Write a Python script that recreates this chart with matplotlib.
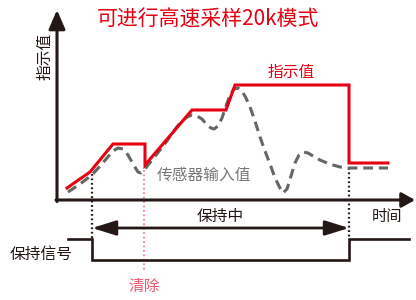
import matplotlib
matplotlib.use('Agg')
import matplotlib.pyplot as plt

plt.rcParams['font.family'] = ['Noto Sans CJK SC', 'DejaVu Sans']

# diagram coordinates, in pixels of the 416x300 picture (y grows downward)
display_x = [67, 90, 113, 145, 145, 192, 226, 235, 349, 349, 388]
display_y = [188, 172, 144, 144, 165, 110, 110, 85, 85, 163, 163]

sensor_x = [68, 80, 92, 100, 107, 113, 118, 123, 128, 133, 138, 141, 145, 152, 160,
            167, 173, 180, 187, 192, 197, 202, 207, 211, 214, 218, 222, 226, 230,
            234, 238, 242, 246, 250, 255, 260, 265, 270, 275, 280, 283, 287, 291,
            295, 299, 303, 308, 313, 320, 327, 333, 340, 348, 388]
sensor_y = [192, 184, 175, 166, 158, 151, 148, 149, 155, 164, 172, 173, 169, 160, 150,
            141, 132, 123, 117, 115, 116, 119, 125, 128, 129, 126, 118, 106, 95,
            89, 88, 91, 98, 107, 121, 137, 151, 164, 178, 188, 193, 189, 176,
            163, 155, 152, 153, 156, 160, 163, 165, 167, 168, 168]

signal_x = [68, 92, 92, 349, 349, 409]
signal_y = [239, 239, 260, 260, 239, 239]

hold_start, hold_end, clear_x = 92, 349, 144
axis_x0, axis_y0 = 57, 200

RED = '#e60012'
GRAY = '#666666'
BLACK = '#231815'

fig = plt.figure(figsize=(4.16, 3.0), dpi=100)
ax = fig.add_axes([0, 0, 1, 1])
ax.set_xlim(0, 416)
ax.set_ylim(300, 0)
ax.axis('off')

# axes with arrows
ax.annotate('', xy=(axis_x0, 10), xytext=(axis_x0, axis_y0 + 1.5),
            arrowprops=dict(arrowstyle='-|>,head_length=1.15,head_width=0.5',
                            lw=2.2, color=BLACK, shrinkA=0, shrinkB=0, mutation_scale=10))
ax.annotate('', xy=(415, axis_y0), xytext=(axis_x0 - 1, axis_y0),
            arrowprops=dict(arrowstyle='-|>,head_length=0.8,head_width=0.45',
                            lw=2.2, color=BLACK, shrinkA=0, shrinkB=0, mutation_scale=10))

# dotted guide lines
ax.plot([hold_start, hold_start], [174, 238], color=BLACK, lw=1.6, ls=(0, (0.8, 1.2)))
ax.plot([hold_end, hold_end], [168, 238], color=BLACK, lw=1.6, ls=(0, (0.8, 1.2)))
ax.plot([clear_x, clear_x], [170, 272], color='#f3939f', lw=1.6, ls=(0, (0.8, 1.2)))

# curves
ax.plot(sensor_x, sensor_y, color=GRAY, lw=2.2, ls=(0, (3.2, 1.9)), dash_capstyle='butt')
ax.plot(display_x, display_y, color=RED, lw=2.2, solid_joinstyle='miter')

# hold period arrow
ax.annotate('', xy=(hold_end, 228), xytext=(hold_start, 228),
            arrowprops=dict(arrowstyle='<|-|>,head_length=1.45,head_width=0.45',
                            lw=2.0, color=BLACK, shrinkA=0, shrinkB=0, mutation_scale=10))

# hold signal
ax.plot(signal_x, signal_y, color=BLACK, lw=1.9, solid_joinstyle='miter')

# texts
ax.text(208, 20, '可进行高速采样20k模式', color=RED, fontsize=15, ha='center', va='center')
ax.text(45, 56, '指示值', color=BLACK, fontsize=11.3, ha='center', va='center', rotation=90)
ax.text(291, 72, '指示值', color=RED, fontsize=11.3, ha='center', va='center')
ax.text(204, 175, '传感器输入值', color='#777777', fontsize=11.3, ha='center', va='center')
ax.text(220, 216, '保持中', color=BLACK, fontsize=11.3, ha='center', va='center')
ax.text(387, 216, '时间', color=BLACK, fontsize=11, ha='center', va='center')
ax.text(41, 254, '保持信号', color=BLACK, fontsize=11.3, ha='center', va='center')
ax.text(144, 286, '清除', color='#f05a6e', fontsize=11.3, ha='center', va='center')

fig.savefig('out.png', dpi=100)
